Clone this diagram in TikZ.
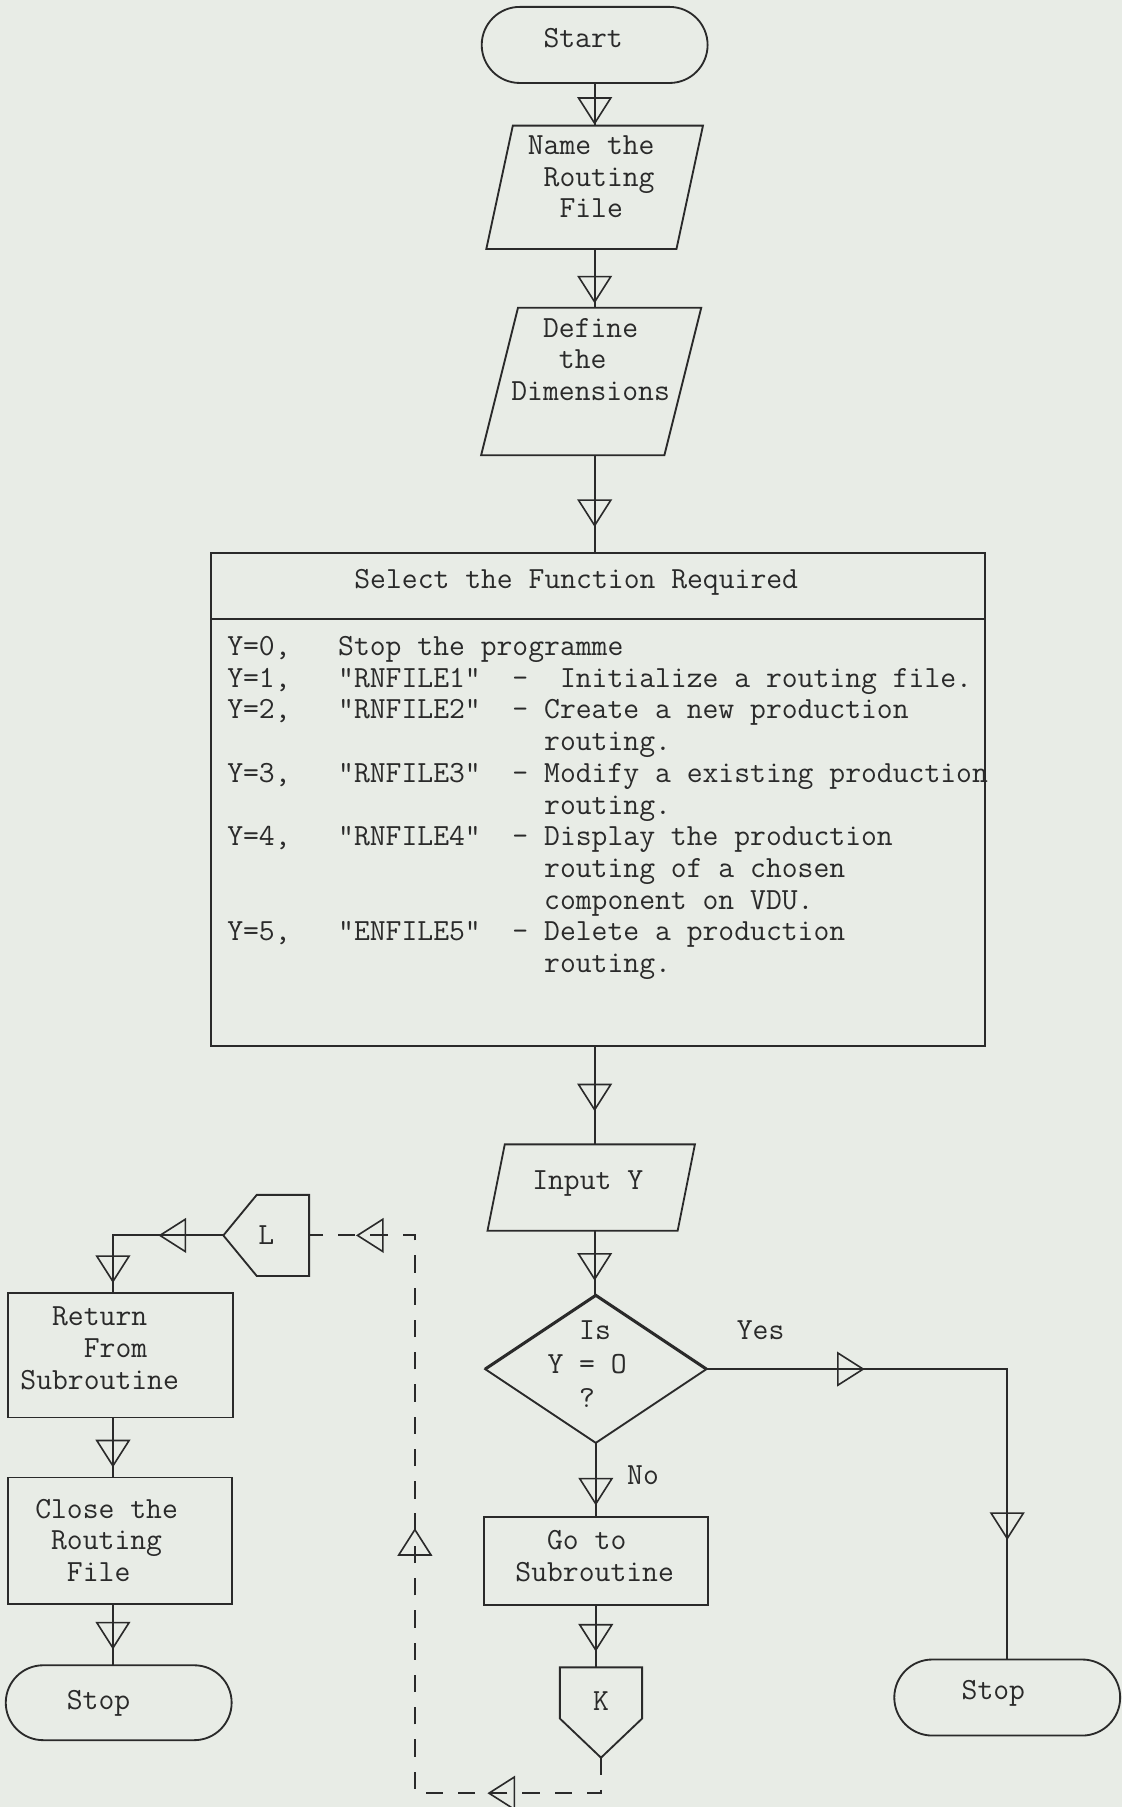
\documentclass[tikz,border=0pt]{standalone}
\usepackage{fontspec}
\usetikzlibrary{shapes.geometric,shapes.misc,decorations.markings}
\definecolor{paper}{HTML}{E8ECE6}
\definecolor{ink}{HTML}{2A2A2A}
\newcommand\twentysp{\hphantom{00000000000000000000}}
\begin{document}
\begin{tikzpicture}[x=1pt,y=-1pt,
  base/.style={draw=ink, line width=1.6pt, inner sep=0pt, outer sep=0pt},
  term/.style={base, rounded rectangle, minimum width=196pt, minimum height=66pt},
  proc/.style={base, rectangle},
  io/.style={rectangle, inner sep=0pt, outer sep=0pt},
  dec/.style={base, diamond, minimum width=192pt, minimum height=128pt},
  txt/.style={font=\ttfamily\fontsize{26.7pt}{27.5pt}\selectfont, text=ink, inner sep=0pt, align=left},
  one/.style={txt, text height=16pt, text depth=0pt},
  flow/.style={draw=ink, line width=1.6pt},
  conn/.style={flow, dash pattern=on 15pt off 13pt},
  tri/.style={postaction={decorate, decoration={markings, mark=at position #1 with {\draw[ink, line width=1.4pt, solid] (0pt,0pt) -- (-22pt,14pt) -- (-22pt,-14pt) -- cycle;}}}}
]
\fill[paper] (0,0) rectangle (974,1568);
\useasboundingbox (0,0) rectangle (974,1568);

% shapes
\node[term] (start) at (516,39) {};
\node[io, minimum width=188pt, minimum height=107pt] (name) at (516,162.5) {};
\draw[flow] ([xshift=23pt]name.north west) -- (name.north east) -- ([xshift=-23pt]name.south east) -- (name.south west) -- cycle;
\node[io, minimum width=191pt, minimum height=128pt] (define) at (513,331) {};
\draw[flow] ([xshift=32pt]define.north west) -- (define.north east) -- ([xshift=-32pt]define.south east) -- (define.south west) -- cycle;
\node[proc, minimum width=672pt, minimum height=428pt] (sel) at (519,694) {};
\draw[flow] ([yshift=-57pt]sel.north west) -- ([yshift=-57pt]sel.north east);
\node[io, minimum width=180pt, minimum height=75pt] (input) at (513,1030.5) {};
\draw[flow] ([xshift=15pt]input.north west) -- (input.north east) -- ([xshift=-15pt]input.south east) -- (input.south west) -- cycle;
\node[dec] (dia) at (517,1188) {};
\draw[flow, line width=2.6pt] (dia.west) -- (dia.north) -- (dia.east);
\node[proc, minimum width=194pt, minimum height=77pt] (go) at (517,1354.5) {};
\node[txt, minimum width=71pt, minimum height=78pt, text depth=20pt] (K) at (521.5,1486) {K};
\draw[flow] (K.north west) -- (K.north east) -- ([yshift=34pt]K.south east) -- (K.south) -- ([yshift=34pt]K.south west) -- cycle;
\node[term] (rstop) at (874,1473) {};
\node[txt, minimum width=74pt, minimum height=70pt] (L) at (231,1072) {L};
\draw[flow] (L.north east) -- (L.south east) -- ([xshift=29pt]L.south west) -- (L.west) -- ([xshift=29pt]L.north west) -- cycle;
\node[proc, minimum width=195pt, minimum height=108pt] (ret) at (104.5,1176) {};
\node[proc, minimum width=194pt, minimum height=110pt] (close) at (104,1337) {};
\node[term, minimum height=65pt] (lstop) at (103,1477.5) {};

% texts
\node[one] (start-t) at (506,33) {Start};
\node[txt] (name-t) at (513,153.5) {Name the\\\hphantom{0}Routing\\\hphantom{00}File};
\node[txt] (define-t) at (512.5,312) {\hphantom{00}Define\\\hphantom{000}the\\Dimensions};
\node[one] (sel-h) at (500,503) {Select the Function Required};
\node[txt, anchor=north west] (sel-list) at (197,552) {%
Y=0,\ \ \ Stop the programme\\
Y=1,\ \ \ "RNFILE1"\ \ -\ \ Initialize a routing file.\\
Y=2,\ \ \ "RNFILE2"\ \ - Create a new production\\
\twentysp routing.\\
Y=3,\ \ \ "RNFILE3"\ \ - Modify a existing production\\
\twentysp routing.\\
Y=4,\ \ \ "RNFILE4"\ \ - Display the production\\
\twentysp routing of a chosen\\
\twentysp component on VDU.\\
Y=5,\ \ \ "ENFILE5"\ \ - Delete a production\\
\twentysp routing.};
\node[one] (input-t) at (510,1024) {Input Y};
\node[txt, font=\ttfamily\fontsize{26.7pt}{29.5pt}\selectfont] (dia-t) at (509.5,1184) {\hphantom{00}Is\\Y = O\\\hphantom{00}?};
\node[txt] (go-t) at (516,1350) {\hphantom{00}Go to\\Subroutine};
\node[txt] (ret-t) at (86.5,1170) {\hphantom{00}Return\\\hphantom{0000}From\\Subroutine};
\node[txt] (close-t) at (92.5,1336.5) {Close the\\\hphantom{0}Routing\\\hphantom{00}File};
\node[one] (lstop-t) at (85.5,1475) {Stop};
\node[one] (rstop-t) at (862,1467) {Stop};
\node[one] (yes) at (660,1154) {Yes};
\node[one] (no) at (558,1280) {No};

% helper coordinates
\coordinate (lc) at (98,1072);
\coordinate (dl) at (360,1556);
\coordinate (dt) at (360,1072);

% connectors
\draw[flow, tri=-2pt] (start) -- (start |- name.north);
\draw[flow, tri=-5pt] (start |- name.south) -- (start |- define.north);
\draw[flow, tri=-24pt] (start |- define.south) -- (start |- sel.north);
\draw[flow, tri=-30pt] (start |- sel.south) -- (start |- input.north);
\draw[flow, tri=-14pt] (start |- input.south) -- (start |- dia.north);
\draw[flow, tri=-11pt] (dia) -- (go);
\draw[flow, tri=-15pt] (go) -- (go |- K.north);
\draw[flow, tri=136pt, tri=-105pt] (dia.east) -| (rstop);
\draw[flow, tri=55pt, tri=-10pt] (L.west) -- (lc) -- (lc |- ret.north);
\draw[flow, tri=-10pt] (lc |- ret.south) -- (lc |- close.north);
\draw[flow, tri=-15pt] (lc |- close.south) -- (lc |- lstop.north);
\draw[conn, tri=128pt, tri=421pt, tri=-42pt] (K.south) |- (dl) -- (dt) -- (L.east |- dt);
\end{tikzpicture}
\end{document}
